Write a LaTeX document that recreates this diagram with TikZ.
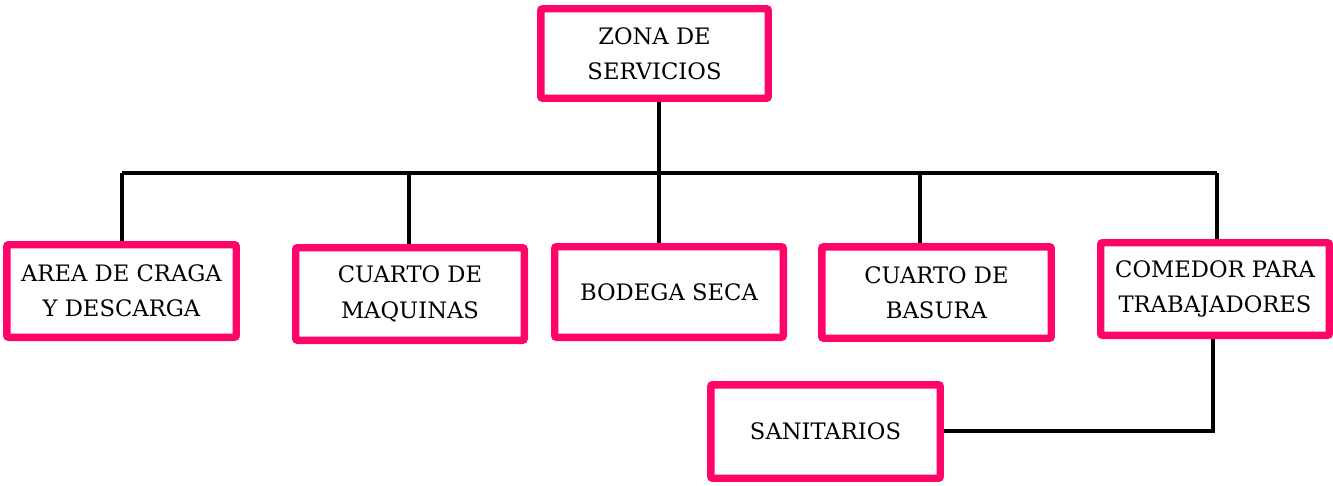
\documentclass[tikz,border=0pt]{standalone}
\usepackage{fontspec}
\setmainfont{DejaVu Serif}
\usetikzlibrary{backgrounds,shadows}
\definecolor{boxpink}{RGB}{255,5,105}
\tikzset{
  box/.style={draw=boxpink, line width=5.6pt, fill=white, rounded corners=1.5pt,
    align=center, inner sep=0pt,
    font=\fontsize{17}{26.5}\selectfont,
    drop shadow={shadow xshift=1.5pt, shadow yshift=-1.5pt, opacity=0.2}},
  link/.style={line width=2.6pt, black}
}
\begin{document}
\begin{tikzpicture}[x=0.75pt,y=-0.75pt]
\useasboundingbox (0,0) rectangle (1333,485);
\node[box, minimum width=170.6pt, minimum height=67.1pt] (zona) at (654.5,53.5) {ZONA DE\\SERVICIOS};
\node[box, minimum width=172.1pt, minimum height=69.4pt] (area) at (121.5,291) {AREA DE CRAGA\\Y DESCARGA};
\node[box, minimum width=171.4pt, minimum height=69.4pt] (maq) at (410,294) {CUARTO DE\\MAQUINAS};
\node[box, minimum width=171.4pt, minimum height=67.9pt] (bod) at (669,292) {BODEGA SECA};
\node[box, minimum width=172.1pt, minimum height=68.6pt] (bas) at (936.5,292.5) {CUARTO DE\\BASURA};
\node[box, minimum width=171.4pt, minimum height=69.4pt] (com) at (1215,289) {COMEDOR PARA\\TRABAJADORES};
\node[box, minimum width=172.1pt, minimum height=70.1pt] (san) at (825.5,431.5) {SANITARIOS};
\coordinate (hl) at (122,173);
\coordinate (hm) at (409,173);
\coordinate (hc) at (659,173);
\coordinate (hb) at (920,173);
\coordinate (hr) at (1217,173);
\coordinate (cs) at (1213,431);
\begin{scope}[on background layer]
\draw[link] (zona.south -| hc) -- (hc);
\draw[link] (hl) -- (hr);
\draw[link] (hl) -- (hl |- area.north);
\draw[link] (hm) -- (hm |- maq.north);
\draw[link] (hc) -- (hc |- bod.north);
\draw[link] (hb) -- (hb |- bas.north);
\draw[link] (hr) -- (hr |- com.north);
\draw[link] (com.south -| cs) -- (cs) -- (san.east |- cs);
\end{scope}
\end{tikzpicture}
\end{document}
